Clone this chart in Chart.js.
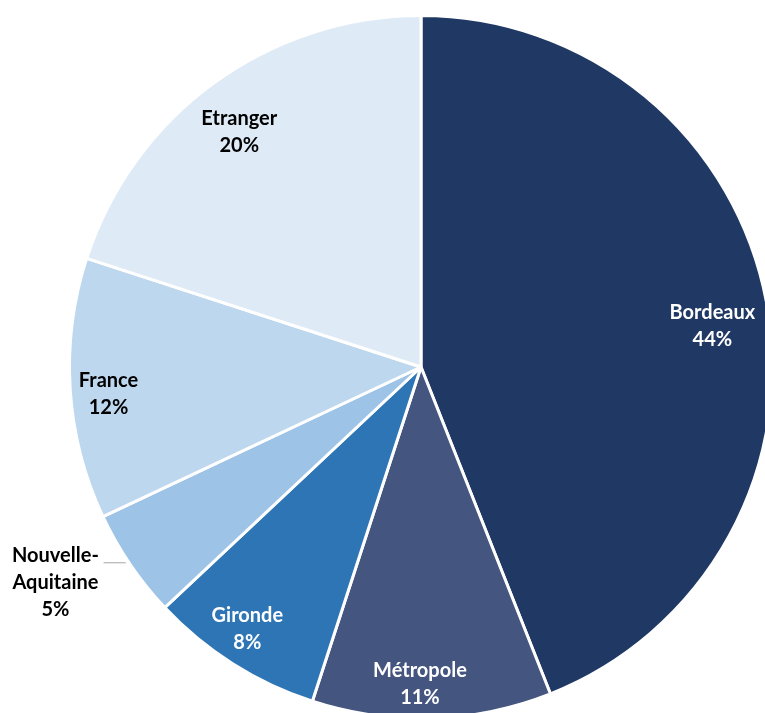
<!DOCTYPE html>
<html>
<head>
<meta charset="utf-8">
<script src="https://cdn.jsdelivr.net/npm/chart.js@4.4.1/dist/chart.umd.min.js"></script>
<style>
  html, body { margin: 0; padding: 0; width: 765px; height: 713px; overflow: hidden; background: #fff; }
  #wrap { position: absolute; left: -3px; top: 0; width: 848px; height: 734px; }
</style>
</head>
<body>
<div id="wrap"><canvas id="pie"></canvas></div>
<script>
// origine des visiteurs, en %
const zones = ['Bordeaux', 'Métropole', 'Gironde', 'Nouvelle-Aquitaine', 'France', 'Etranger'];
const parts = [44, 11, 8, 5, 12, 20];
const couleurs = ['#203864', '#44557f', '#2e75b6', '#9dc3e6', '#bdd7ee', '#deebf7'];

// libellés : lignes de texte, position (en rayons depuis le centre), couleur
const etiquettes = [
    { lignes: ['Bordeaux'], dx: 0.829, dy: -0.117, couleur: '#ffffff' },
    { lignes: ['Métropole'], dx: -0.003, dy: 0.903, couleur: '#ffffff' },
    { lignes: ['Gironde'], dx: -0.494, dy: 0.746, couleur: '#ffffff' },
    { lignes: ['Nouvelle-', 'Aquitaine'], dx: -1.04, dy: 0.614, couleur: '#000000',
      trait: [-0.903, 0.557, -0.84, 0.557] },
    { lignes: ['France'], dx: -0.889, dy: 0.077, couleur: '#000000' },
    { lignes: ['Etranger'], dx: -0.517, dy: -0.669, couleur: '#000000' }
];

const etiquettesPlugin = {
    id: 'etiquettes',
    afterDatasetsDraw(chart) {
        const ctx = chart.ctx;
        const arcs = chart.getDatasetMeta(0).data;
        const cx = arcs[0].x, cy = arcs[0].y, r = arcs[0].outerRadius;
        ctx.save();
        ctx.font = 'bold 20px Lato';
        ctx.textAlign = 'center';
        ctx.textBaseline = 'middle';
        etiquettes.forEach((e, i) => {
            if (e.trait) {
                ctx.strokeStyle = '#a6a6a6';
                ctx.lineWidth = 1;
                ctx.beginPath();
                ctx.moveTo(cx + e.trait[0] * r, cy + e.trait[1] * r);
                ctx.lineTo(cx + e.trait[2] * r, cy + e.trait[3] * r);
                ctx.stroke();
            }
            const lignes = e.lignes.concat([parts[i] + '%']);
            const h = 27;
            const x = cx + e.dx * r;
            let y = cy + e.dy * r - (lignes.length - 1) * h / 2;
            ctx.fillStyle = e.couleur;
            lignes.forEach(l => {
                ctx.fillText(l, x, y);
                y += h;
            });
        });
        ctx.restore();
    }
};

new Chart(document.getElementById('pie'), {
    type: 'pie',
    data: {
        labels: zones,
        datasets: [{
            data: parts,
            backgroundColor: couleurs,
            borderColor: '#ffffff',
            borderWidth: 3
        }]
    },
    options: {
        responsive: true,
        maintainAspectRatio: false,
        animation: false,
        layout: { padding: { top: 14, bottom: 14, left: 0, right: 0 } },
        plugins: {
            legend: { display: false },
            tooltip: { enabled: false }
        }
    },
    plugins: [etiquettesPlugin]
});
</script>
</body>
</html>
